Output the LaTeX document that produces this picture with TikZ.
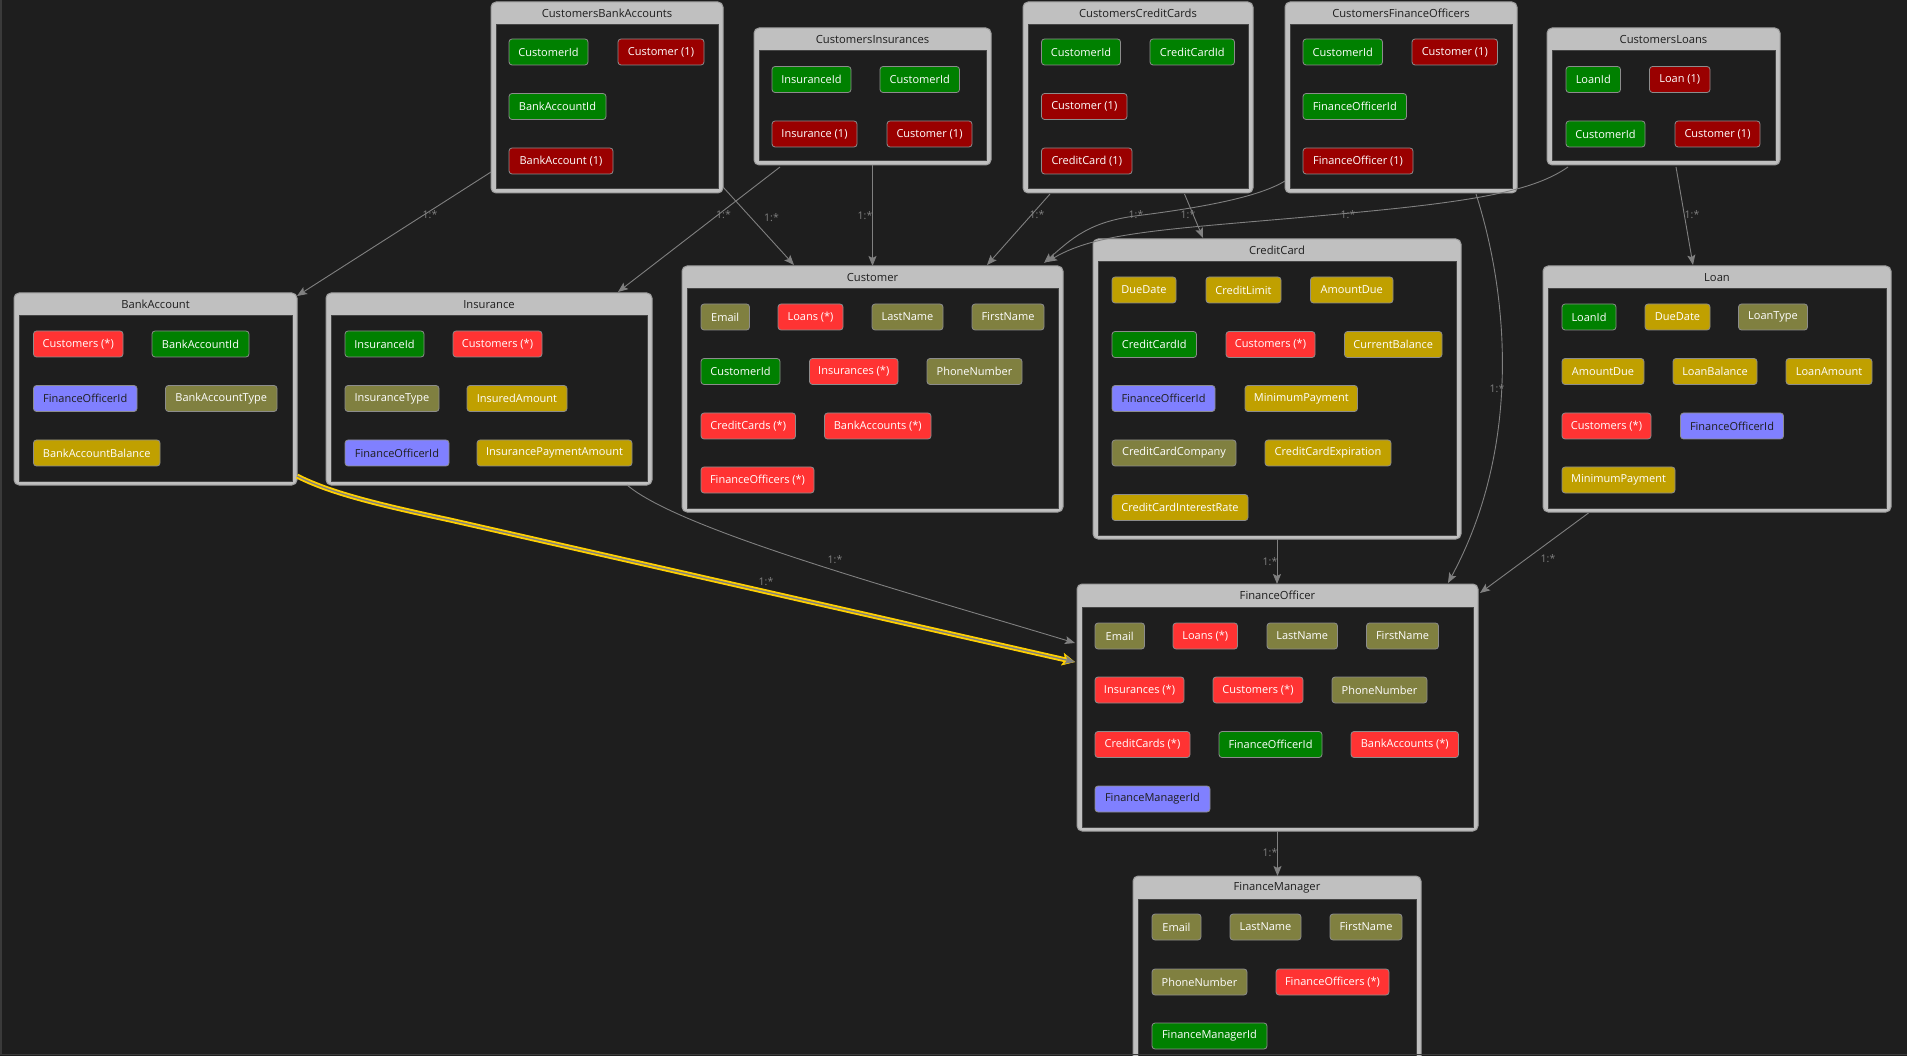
\documentclass[tikz,border=0pt]{standalone}
\usepackage{fontspec}
\setmainfont{Open Sans}
\usetikzlibrary{arrows.meta,calc}
\definecolor{bg}{HTML}{1E1E1E}
\definecolor{framec}{HTML}{3A3A3A}
\definecolor{boxgray}{HTML}{C0C0C0}
\definecolor{boxedge}{HTML}{9C9C9C}
\definecolor{paneledge}{HTML}{454545}
\definecolor{titletext}{HTML}{1E1E1E}
\definecolor{chipedge}{HTML}{8C8C8C}
\definecolor{cgreen}{HTML}{008000}
\definecolor{cdred}{HTML}{9A0000}
\definecolor{cred}{HTML}{FF3333}
\definecolor{colive}{HTML}{808040}
\definecolor{cgold}{HTML}{C0A000}
\definecolor{cblue}{HTML}{8080FF}
\definecolor{conngray}{HTML}{808080}
\definecolor{hlyellow}{HTML}{FFD000}
\newcommand\erbox[6]{%
  \node[box, minimum width={#4-#2}, minimum height={#5-#3}] (#1) at ({(#2+#4)/2},{(#3+#5)/2}) {};
  \path[panel] ({#2+5},{#3+23}) rectangle ({#4-5},{#5-4});
  \node[ttl] (#1t) at ({(#2+#4)/2},{#3+11.5}) {#6};
}
\newcommand\chipn[6]{\node[chip,#2,minimum width={#4-#3}] (#1) at ({(#3+#4)/2},#5) {#6};}
\begin{document}
\begin{tikzpicture}[x=1pt,y=-1pt,
  box/.style={draw=boxedge, fill=boxgray, rounded corners=5pt, line width=1pt, inner sep=0pt, outer sep=0pt},
  panel/.style={draw=paneledge, fill=bg, line width=1pt},
  ttl/.style={text=titletext, font=\fontsize{11.2}{13}\selectfont, inner sep=0pt},
  chip/.style={draw=chipedge, rounded corners=3pt, line width=0.8pt, minimum height=26pt, inner sep=0pt, text=white, font=\fontsize{11}{13}\selectfont},
  pk/.style={fill=cgreen},
  nav/.style={fill=cdred},
  coll/.style={fill=cred},
  strp/.style={fill=colive},
  nump/.style={fill=cgold},
  fk/.style={fill=cblue, text=titletext},
  conn/.style={draw=conngray, line width=0.9pt, -{Stealth[length=10pt,width=8pt,inset=2pt]}},
  hl/.style={draw=conngray, line width=1.3pt, -{Stealth[length=10pt,width=8pt,inset=2pt,line width=0.5pt]},
    preaction={draw=hlyellow, line width=5pt, -{Stealth[length=13pt,width=13pt,inset=3pt,line width=0.5pt]}}},
  lbl/.style={text=conngray, font=\fontsize{10.5}{12}\selectfont, inner sep=0pt}]
\useasboundingbox (0,0) rectangle (1907,1056);
\clip (0,0) rectangle (1907,1056);
\fill[bg] (0,0) rectangle (1907,1056);

% boxes
\erbox{cba}{491}{2}{723}{193}{CustomersBankAccounts}
\erbox{ci}{754}{28}{991}{165}{CustomersInsurances}
\erbox{ccc}{1023}{2}{1253}{193}{CustomersCreditCards}
\erbox{cfo}{1285}{2}{1517}{193}{CustomersFinanceOfficers}
\erbox{cl}{1547}{28}{1780}{165}{CustomersLoans}
\erbox{ba}{14}{293}{297}{485}{BankAccount}
\erbox{ins}{326}{293}{652}{485}{Insurance}
\erbox{cust}{682}{266}{1063}{512}{Customer}
\erbox{cc}{1093}{239}{1461}{539}{CreditCard}
\erbox{loan}{1543}{266}{1891}{512}{Loan}
\erbox{fo}{1077}{584}{1478}{831}{FinanceOfficer}
\erbox{fm}{1133}{876}{1421}{1110}{FinanceManager}

% CustomersBankAccounts
\chipn{cba1}{pk}{509}{588}{52}{CustomerId}
\chipn{cba2}{nav}{618}{704}{52}{Customer (1)}
\chipn{cba3}{pk}{509}{606}{106.5}{BankAccountId}
\chipn{cba4}{nav}{509}{613}{161}{BankAccount (1)}
% CustomersInsurances
\chipn{ci1}{pk}{772}{851}{79.5}{InsuranceId}
\chipn{ci2}{pk}{880}{959.5}{79.5}{CustomerId}
\chipn{ci3}{nav}{772}{857}{134}{Insurance (1)}
\chipn{ci4}{nav}{887}{972}{134}{Customer (1)}
% CustomersCreditCards
\chipn{ccc1}{pk}{1041.5}{1120.5}{52}{CustomerId}
\chipn{ccc2}{pk}{1150}{1234.5}{52}{CreditCardId}
\chipn{ccc3}{nav}{1041.5}{1127}{106.5}{Customer (1)}
\chipn{ccc4}{nav}{1041.5}{1132}{161}{CreditCard (1)}
% CustomersFinanceOfficers
\chipn{cfo1}{pk}{1303}{1382.5}{52}{CustomerId}
\chipn{cfo2}{nav}{1412}{1497.5}{52}{Customer (1)}
\chipn{cfo3}{pk}{1303}{1406.5}{106.5}{FinanceOfficerId}
\chipn{cfo4}{nav}{1303}{1413}{161}{FinanceOfficer (1)}
% CustomersLoans
\chipn{cl1}{pk}{1566}{1620.5}{79.5}{LoanId}
\chipn{cl2}{nav}{1649.5}{1710}{79.5}{Loan (1)}
\chipn{cl3}{pk}{1566}{1645}{134}{CustomerId}
\chipn{cl4}{nav}{1675}{1760}{134}{Customer (1)}
% BankAccount
\chipn{ba1}{coll}{33.5}{123}{344}{Customers (*)}
\chipn{ba2}{pk}{152}{249}{344}{BankAccountId}
\chipn{ba3}{fk}{33.5}{137}{398.5}{FinanceOfficerId}
\chipn{ba4}{strp}{165.5}{277}{398.5}{BankAccountType}
\chipn{ba5}{nump}{33.5}{160}{453}{BankAccountBalance}
% Insurance
\chipn{ins1}{pk}{345}{424}{344}{InsuranceId}
\chipn{ins2}{coll}{453}{542}{344}{Customers (*)}
\chipn{ins3}{strp}{345}{439}{398.5}{InsuranceType}
\chipn{ins4}{nump}{467}{567}{398.5}{InsuredAmount}
\chipn{ins5}{fk}{345}{449}{453}{FinanceOfficerId}
\chipn{ins6}{nump}{477}{632}{453}{InsurancePaymentAmount}
% Customer
\chipn{cu1}{strp}{701}{749.5}{317}{Email}
\chipn{cu2}{coll}{778}{843}{317}{Loans (*)}
\chipn{cu3}{strp}{872}{943}{317}{LastName}
\chipn{cu4}{strp}{972}{1044}{317}{FirstName}
\chipn{cu5}{pk}{701}{780}{371.5}{CustomerId}
\chipn{cu6}{coll}{809.5}{898}{371.5}{Insurances (*)}
\chipn{cu7}{strp}{927}{1022}{371.5}{PhoneNumber}
\chipn{cu8}{coll}{701}{795.5}{426}{CreditCards (*)}
\chipn{cu9}{coll}{824.5}{931}{426}{BankAccounts (*)}
\chipn{cu10}{coll}{701}{814}{480}{FinanceOfficers (*)}
% CreditCard
\chipn{cc1}{nump}{1112}{1176}{290}{DueDate}
\chipn{cc2}{nump}{1206}{1281}{290}{CreditLimit}
\chipn{cc3}{nump}{1310.5}{1393}{290}{AmountDue}
\chipn{cc4}{pk}{1112}{1196.5}{344.5}{CreditCardId}
\chipn{cc5}{coll}{1226}{1315}{344.5}{Customers (*)}
\chipn{cc6}{nump}{1344.5}{1442}{344.5}{CurrentBalance}
\chipn{cc7}{fk}{1112}{1215}{398.5}{FinanceOfficerId}
\chipn{cc8}{nump}{1245}{1357.5}{398.5}{MinimumPayment}
\chipn{cc9}{strp}{1112}{1236}{453}{CreditCardCompany}
\chipn{cc10}{nump}{1265}{1391}{453}{CreditCardExpiration}
\chipn{cc11}{nump}{1112}{1248}{507.5}{CreditCardInterestRate}
% Loan
\chipn{lo1}{pk}{1562}{1616}{317}{LoanId}
\chipn{lo2}{nump}{1645}{1710}{317}{DueDate}
\chipn{lo3}{strp}{1738.5}{1807.5}{317}{LoanType}
\chipn{lo4}{nump}{1562}{1644}{371.5}{AmountDue}
\chipn{lo5}{nump}{1673}{1757}{371.5}{LoanBalance}
\chipn{lo6}{nump}{1786}{1872}{371.5}{LoanAmount}
\chipn{lo7}{coll}{1562}{1651}{426}{Customers (*)}
\chipn{lo8}{fk}{1680.5}{1783.5}{426}{FinanceOfficerId}
\chipn{lo9}{nump}{1562}{1675}{480}{MinimumPayment}
% FinanceOfficer
\chipn{fo1}{strp}{1095}{1144.5}{636}{Email}
\chipn{fo2}{coll}{1173}{1237.5}{636}{Loans (*)}
\chipn{fo3}{strp}{1267}{1337.5}{636}{LastName}
\chipn{fo4}{strp}{1366.5}{1438.5}{636}{FirstName}
\chipn{fo5}{coll}{1095}{1184}{690}{Insurances (*)}
\chipn{fo6}{coll}{1213}{1303}{690}{Customers (*)}
\chipn{fo7}{strp}{1332}{1427}{690}{PhoneNumber}
\chipn{fo8}{coll}{1095}{1190}{744.5}{CreditCards (*)}
\chipn{fo9}{pk}{1219}{1322}{744.5}{FinanceOfficerId}
\chipn{fo10}{coll}{1351}{1458.5}{744.5}{BankAccounts (*)}
\chipn{fo11}{fk}{1095}{1210}{799}{FinanceManagerId}
% FinanceManager
\chipn{fm1}{strp}{1152}{1201}{927}{Email}
\chipn{fm2}{strp}{1230}{1301}{927}{LastName}
\chipn{fm3}{strp}{1330}{1402}{927}{FirstName}
\chipn{fm4}{strp}{1152}{1247}{982}{PhoneNumber}
\chipn{fm5}{coll}{1276}{1389}{982}{FinanceOfficers (*)}
\chipn{fm6}{pk}{1152}{1267}{1036}{FinanceManagerId}

% connectors
\draw[conn] ($(cba.south west)+(0,-21)$) -- ($(ba.north east)+(0,3)$);
\draw[conn] ($(cba.south east)+(0,-6)$) -- ($(cust.north west)+(112,-1)$);
\draw[conn] ($(ci.south west)+(26,2)$) -- ($(ins.north east)+(-34,-1)$);
\draw[conn] (ci.south) -- (ci.south |- cust.north);
\draw[conn] ($(ccc.south west)+(27,1)$) -- ($(cust.north east)+(-76,-1)$);
\draw[conn] ($(ccc.south east)+(-68.5,1)$) -- ($(cc.north west)+(110,-1)$);
\draw[conn] ($(cfo.south west)+(0,-12)$) .. controls (1262,195) and (1215,206) .. (1135,216)
   .. controls (1090,222) and (1072,238) .. ($(cust.north east)+(-19,-3)$);
\draw[conn] ($(cl.south west)+(21,2)$) .. controls (1535,190) and (1480,201) .. (1350,213)
   .. controls (1180,229) and (1100,230) .. ($(cust.north east)+(-16,-4)$);
\draw[conn] ($(cl.south west)+(129,2)$) -- ($(loan.north west)+(150,-1)$);
\draw[conn] ($(cfo.south east)+(-41,1)$) .. controls (1510,300) and (1520,450) .. ($(fo.north east)+(-30,-1)$);
\draw[conn] ($(loan.south west)+(45.5,1)$) -- ($(fo.north east)+(2,9)$);
\draw[conn] (cc.south) -- (cc.south |- fo.north);
\draw[conn] ($(ins.south east)+(-25,0)$) .. controls (680,530) and (900,590) .. ($(fo.north west)+(-2,59)$);
\draw[hl] ($(ba.south east)+(0,-9)$) .. controls (330,493) and (380,505) .. (450,520) -- ($(fo.north west)+(-2,78)$);
\draw[conn] (fo.south) -- (fo.south |- fm.north);

% labels
\node[lbl] (l1) at (430,215) {1:*};
\node[lbl] (l2) at (771.5,218) {1:*};
\node[lbl] (l3) at (723.5,215) {1:*};
\node[lbl] (l4) at (865,216) {1:*};
\node[lbl] (l5) at (1037,215) {1:*};
\node[lbl] (l6) at (1188,215) {1:*};
\node[lbl] (l7) at (1136,215) {1:*};
\node[lbl] (l8) at (1348,215) {1:*};
\node[lbl] (l9) at (1692,215) {1:*};
\node[lbl] (l10) at (1497,389) {1:*};
\node[lbl] (l11) at (1548,559) {1:*};
\node[lbl] (l12) at (1270,562) {1:*};
\node[lbl] (l13) at (835,560) {1:*};
\node[lbl] (l14) at (766,582) {1:*};
\node[lbl] (l15) at (1270,853) {1:*};

\draw[framec, line width=1.5pt] (0.75,0) -- (0.75,1054.5) -- (1907,1054.5);
\end{tikzpicture}
\end{document}
